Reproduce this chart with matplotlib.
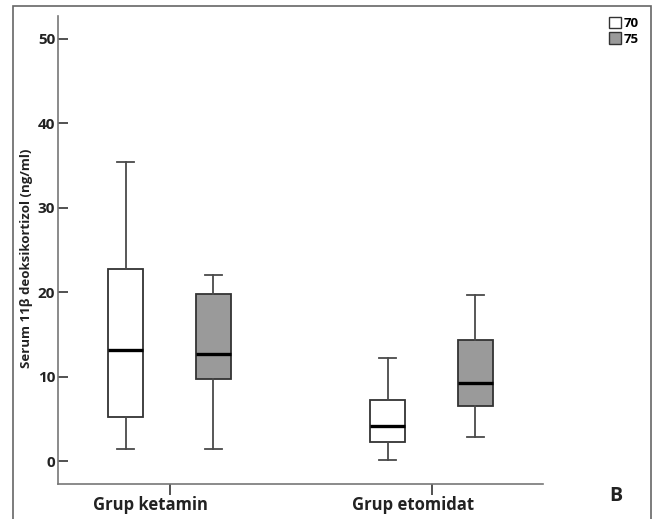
import matplotlib
matplotlib.use("Agg")
import matplotlib.pyplot as plt
from matplotlib.patches import Patch, Rectangle
from matplotlib.transforms import blended_transform_factory

plt.rcParams['font.family'] = ['Open Sans', 'DejaVu Sans']
plt.rcParams['font.weight'] = 'bold'

groups = ["Grup ketamin", "Grup etomidat"]
series = ["70", "75"]
colors = ["white", "#9a9a9a"]

# whisker low, Q1, median, Q3, whisker high  (per group, per series)
whislo = [[1.45, 1.4], [0.1, 2.85]]
q1 = [[5.3, 9.7], [2.3, 6.5]]
med = [[13.2, 12.7], [4.2, 9.3]]
q3 = [[22.8, 19.8], [7.2, 14.4]]
whishi = [[35.4, 22.1], [12.2, 19.7]]

yticks = [0, 10, 20, 30, 40, 50]

fig = plt.figure(figsize=(6.59, 5.19), dpi=100)
ax = fig.add_axes([0.088, 0.068, 0.7355, 0.9012])

offsets = [-0.167, 0.167]
for g in range(len(groups)):
    for s in range(len(series)):
        st = [dict(whislo=whislo[g][s], q1=q1[g][s], med=med[g][s],
                   q3=q3[g][s], whishi=whishi[g][s], fliers=[])]
        ax.bxp(st, positions=[g + offsets[s]], widths=0.134,
               patch_artist=True, showfliers=False,
               boxprops=dict(facecolor=colors[s], edgecolor="#333333", linewidth=1.3),
               medianprops=dict(color="black", linewidth=2.4),
               whiskerprops=dict(color="#4a4a4a", linewidth=1.3),
               capprops=dict(color="#4a4a4a", linewidth=1.3),
               capwidths=0.065)

ax.set_xlim(-0.4256, 1.424)
ax.set_ylim(-2.65, 52.7)
ax.set_yticks(yticks)
ax.set_yticklabels([str(v) for v in yticks], fontsize=11, fontweight='bold', color="#222222")
ax.set_xticks([0, 1])
ax.set_xticklabels([])
# group labels sit a bit left of their ticks, as in the original
trans = blended_transform_factory(ax.transData, ax.transAxes)
for g, name in enumerate(groups):
    ax.text(g - 0.0725, -0.0455, name, transform=trans, ha='center', va='center',
            fontsize=12, fontweight='bold', color="#222222")

ax.tick_params(axis='y', direction='in', length=7, width=1.2, color="#333333", pad=2)
ax.tick_params(axis='x', direction='out', length=8, width=1.2, color="#333333")
ax.spines['top'].set_visible(False)
ax.spines['right'].set_visible(False)
for sp in ['left', 'bottom']:
    ax.spines[sp].set_color("#777777")
    ax.spines[sp].set_linewidth(1.2)

ax.set_ylabel("Serum 11β deoksikortizol (ng/ml)", fontsize=9.5, fontweight='bold', color="#222222")
ax.yaxis.set_label_coords(-0.0516, 0.482)

handles = [Patch(facecolor=colors[i], edgecolor="#333333", linewidth=1.0) for i in range(len(series))]
fig.legend(handles, series, loc='upper left', bbox_to_anchor=(0.924, 0.968),
           frameon=False, handlelength=0.95, handleheight=0.95,
           handletextpad=0.2, labelspacing=0.2, borderaxespad=0, borderpad=0,
           prop=dict(weight='bold', size=9.5))

fig.text(0.9347, 0.044, "B", fontsize=14, fontweight='bold', ha='center', va='center', color="#222222")

fig.patches.append(Rectangle((0.0190, -0.02), 0.9689, 1.0084, transform=fig.transFigure,
                             fill=False, edgecolor="#666666", linewidth=1.2))

fig.savefig("out.png", dpi=100)
